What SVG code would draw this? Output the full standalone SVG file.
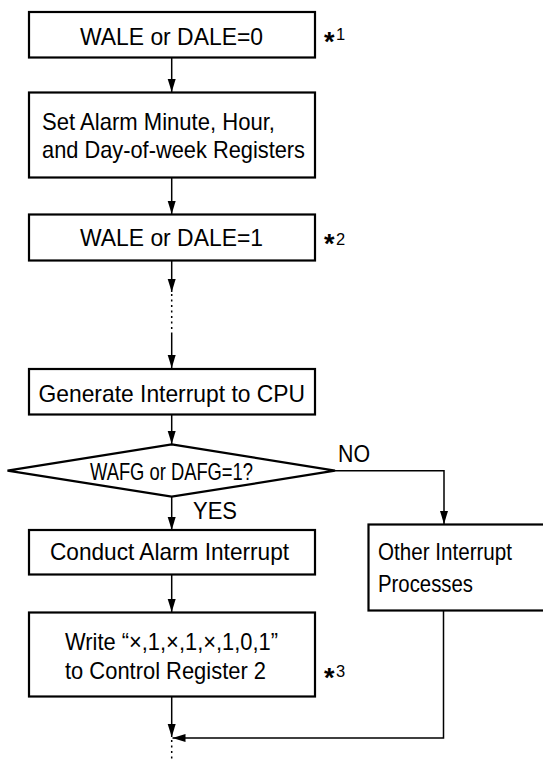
<svg xmlns="http://www.w3.org/2000/svg" width="543" height="762" viewBox="0 0 543 762">
<defs>
<marker id="ah" markerUnits="userSpaceOnUse" markerWidth="14" markerHeight="9" refX="13" refY="4" orient="auto">
<path d="M0,0 L13,4 L0,8 z" fill="#000"/>
</marker>
<style>
.box{fill:#fff;stroke:#000;stroke-width:2.2}
.ln{fill:none;stroke:#000;stroke-width:1.5}
.dot{fill:none;stroke:#000;stroke-width:1.5;stroke-dasharray:2 3.5}
.t{font-family:"Liberation Sans",Arial,sans-serif;font-size:24px;fill:#000}
.st{font-family:"Liberation Sans",Arial,sans-serif;font-size:27px;font-weight:bold;fill:#000}
.sn{font-family:"Liberation Sans",Arial,sans-serif;font-size:16.5px;fill:#000}
</style>
</defs>
<rect width="543" height="762" fill="#fff"/>
<g id="connectors">
<line class="ln" x1="171.7" y1="57" x2="171.7" y2="92" marker-end="url(#ah)"/>
<line class="ln" x1="171.7" y1="178" x2="171.7" y2="214" marker-end="url(#ah)"/>
<line class="ln" x1="171.7" y1="261" x2="171.7" y2="292" marker-end="url(#ah)"/>
<line class="dot" x1="171.7" y1="294" x2="171.7" y2="334"/>
<line class="ln" x1="171.7" y1="334" x2="171.7" y2="368" marker-end="url(#ah)"/>
<line class="ln" x1="171.7" y1="414" x2="171.7" y2="444" marker-end="url(#ah)"/>
<line class="ln" x1="171.7" y1="497" x2="171.7" y2="530" marker-end="url(#ah)"/>
<polyline class="ln" points="335,470.7 444,470.7 444,524" marker-end="url(#ah)"/>
<line class="ln" x1="171.7" y1="574" x2="171.7" y2="612" marker-end="url(#ah)"/>
<line class="ln" x1="171.7" y1="697" x2="171.7" y2="737" marker-end="url(#ah)"/>
<polyline class="ln" points="443.5,611 443.5,738 172.5,738" marker-end="url(#ah)"/>
<line class="dot" x1="171.7" y1="740" x2="171.7" y2="762"/>
<text class="t" x="338" y="462" textLength="32" lengthAdjust="spacingAndGlyphs">NO</text>
<text class="t" x="193" y="519" textLength="44" lengthAdjust="spacingAndGlyphs">YES</text>
</g>
<g id="n1">
<rect class="box" x="29" y="12" width="286" height="45.5"/>
<text class="t" x="80" y="45" textLength="183" lengthAdjust="spacingAndGlyphs">WALE or DALE=0</text>
<text class="st" x="324" y="51">*</text><text class="sn" x="336" y="40">1</text>
</g>
<g id="n2">
<rect class="box" x="29" y="92.5" width="286" height="85"/>
<text class="t" x="42" y="129.5" textLength="233" lengthAdjust="spacingAndGlyphs">Set Alarm Minute, Hour,</text>
<text class="t" x="42" y="157.5" textLength="263" lengthAdjust="spacingAndGlyphs">and Day-of-week Registers</text>
</g>
<g id="n3">
<rect class="box" x="29" y="214.5" width="286" height="46"/>
<text class="t" x="80" y="246" textLength="183" lengthAdjust="spacingAndGlyphs">WALE or DALE=1</text>
<text class="st" x="324" y="253">*</text><text class="sn" x="336" y="245">2</text>
</g>
<g id="n4">
<rect class="box" x="29" y="369" width="286" height="45.5"/>
<text class="t" x="38.5" y="402" textLength="266.5" lengthAdjust="spacingAndGlyphs">Generate Interrupt to CPU</text>
</g>
<g id="n5">
<polygon class="box" points="171.7,444.3 335,470.7 171.7,496.7 7.5,470.7"/>
<text class="t" x="90" y="479.5" textLength="163" lengthAdjust="spacingAndGlyphs">WAFG or DAFG=1?</text>
</g>
<g id="n6">
<rect class="box" x="29" y="530" width="286" height="44.5"/>
<text class="t" x="50" y="560" textLength="239" lengthAdjust="spacingAndGlyphs">Conduct Alarm Interrupt</text>
</g>
<g id="n7">
<rect class="box" x="368.5" y="524.5" width="180" height="86"/>
<text class="t" x="378" y="560" textLength="134" lengthAdjust="spacingAndGlyphs">Other Interrupt</text>
<text class="t" x="378" y="592" textLength="95" lengthAdjust="spacingAndGlyphs">Processes</text>
</g>
<g id="n8">
<rect class="box" x="29" y="612.5" width="286" height="84"/>
<text class="t" x="65" y="650" textLength="213" lengthAdjust="spacingAndGlyphs">Write “×,1,×,1,×,1,0,1”</text>
<text class="t" x="65" y="679" textLength="201" lengthAdjust="spacingAndGlyphs">to Control Register 2</text>
<text class="st" x="324" y="687">*</text><text class="sn" x="336" y="677">3</text>
</g>
</svg>
